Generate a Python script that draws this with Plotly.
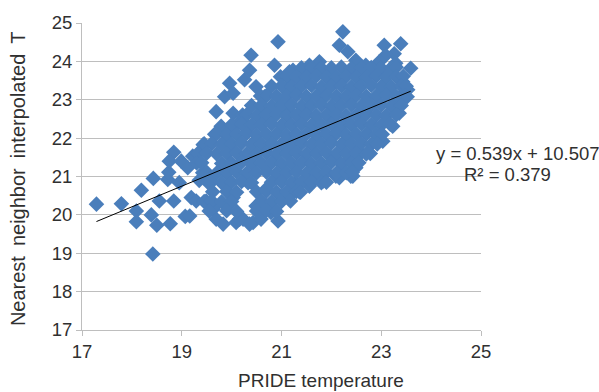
import plotly.graph_objects as go

# Regression reported on the chart
slope = 0.539
intercept = 10.507
r_squared = 0.379

# Points: (PRIDE temperature, nearest-neighbor interpolated T)
left_sparse = [
    (17.29, 20.28), (17.79, 20.29), (18.19, 20.64), (18.43, 20.95), (18.09, 20.10),
    (18.09, 19.82), (18.39, 20.00), (18.50, 19.73), (18.55, 20.36), (18.77, 19.77),
    (18.84, 20.36), (19.07, 19.96), (18.42, 18.98), (18.72, 20.92), (18.74, 21.11),
    (18.84, 21.63), (18.75, 21.40), (18.95, 20.84), (18.99, 21.40), (19.12, 21.23),
    (19.19, 20.45), (19.22, 21.53), (19.49, 20.36), (19.63, 20.15), (19.29, 20.36),
    (19.35, 20.90),
]

bottom_edge = [
    (19.16, 19.97), (19.69, 19.89), (19.83, 19.76), (20.09, 19.80), (20.23, 19.89),
    (20.43, 19.80), (20.59, 19.89), (20.79, 20.06), (20.93, 19.84), (20.36, 19.76),
    (20.16, 19.89), (19.66, 20.23), (20.03, 20.45), (20.49, 20.23), (21.16, 20.49),
    (21.29, 20.84), (20.69, 20.67), (20.33, 20.84),
]

lower_right_edge = [
    (21.36, 20.60), (21.56, 20.75), (21.83, 20.88), (22.16, 20.97), (22.43, 21.01),
    (22.49, 21.23), (22.36, 21.44), (22.59, 21.61), (23.03, 21.92), (23.23, 22.31),
    (23.36, 22.65), (22.09, 21.01), (22.39, 21.01),
]

upper_right_edge = [
    (22.23, 24.77), (22.16, 24.42), (22.33, 24.25), (23.06, 24.42), (23.39, 24.46),
    (23.26, 24.20), (23.09, 24.16), (23.59, 23.82), (23.43, 23.47), (23.29, 23.95),
    (21.76, 23.99), (21.56, 23.90), (21.23, 23.77), (22.69, 23.90), (22.96, 23.99),
    (22.49, 24.03), (23.43, 23.13), (23.53, 23.26), (21.19, 23.52), (21.63, 23.77),
    (23.52, 23.08),
]

upper_left_edge = [
    (20.93, 24.51), (20.39, 24.16), (20.36, 23.77), (20.26, 23.52), (20.86, 23.90),
    (21.16, 23.73), (19.96, 23.43), (19.86, 23.08), (20.03, 23.17), (19.69, 22.69),
    (20.03, 22.65), (19.79, 22.31), (20.49, 23.34), (20.66, 23.08), (20.63, 22.78),
    (21.09, 23.26), (20.13, 22.39), (19.43, 21.83), (19.89, 22.18), (20.29, 22.35),
    (20.83, 22.78), (20.76, 22.52), (21.16, 22.69),
]

core = [
    (21.4, 23.83), (21.6, 23.84), (21.8, 23.82), (22.0, 23.83), (22.2, 23.85),
    (22.4, 23.82), (22.6, 23.83), (22.8, 23.84), (23.0, 23.82), (23.2, 23.83), (23.3, 23.85),
    (20.98, 23.6), (21.1, 23.61), (21.3, 23.59), (21.5, 23.6), (21.7, 23.62),
    (21.9, 23.59), (22.1, 23.6), (22.3, 23.61), (22.5, 23.59), (22.7, 23.6),
    (22.9, 23.62), (23.1, 23.59), (23.3, 23.6), (23.44, 23.61),
    (20.8, 23.35), (21.0, 23.36), (21.2, 23.34), (21.4, 23.35), (21.6, 23.37),
    (21.8, 23.34), (22.0, 23.35), (22.2, 23.36), (22.4, 23.34), (22.6, 23.35),
    (22.8, 23.37), (23.0, 23.35), (23.2, 23.34), (23.4, 23.36), (23.5, 23.35),
    (20.58, 23.1), (20.7, 23.11), (20.9, 23.09), (21.1, 23.1), (21.3, 23.12),
    (21.5, 23.09), (21.7, 23.1), (21.9, 23.11), (22.1, 23.09), (22.3, 23.1),
    (22.5, 23.11), (22.7, 23.09), (22.9, 23.1), (23.1, 23.12), (23.3, 23.09), (23.48, 23.1),
    (20.4, 22.85), (20.6, 22.86), (20.8, 22.84), (21.0, 22.85), (21.2, 22.87),
    (21.4, 22.84), (21.6, 22.85), (21.8, 22.86), (22.0, 22.84), (22.2, 22.85),
    (22.4, 22.86), (22.6, 22.84), (22.8, 22.85), (23.0, 22.86), (23.2, 22.84), (23.4, 22.85),
    (20.22, 22.6), (20.3, 22.61), (20.5, 22.59), (20.7, 22.6), (20.9, 22.62),
    (21.1, 22.59), (21.3, 22.6), (21.5, 22.61), (21.7, 22.59), (21.9, 22.6),
    (22.1, 22.61), (22.3, 22.59), (22.5, 22.6), (22.7, 22.62), (22.9, 22.6),
    (23.1, 22.59), (23.3, 22.61),
    (20.0, 22.35), (20.2, 22.36), (20.4, 22.34), (20.6, 22.35), (20.8, 22.37),
    (21.0, 22.34), (21.2, 22.35), (21.4, 22.36), (21.6, 22.34), (21.8, 22.35),
    (22.0, 22.36), (22.2, 22.34), (22.4, 22.35), (22.6, 22.37), (22.8, 22.35),
    (23.0, 22.34), (23.18, 22.36),
    (19.66, 22.1), (19.7, 22.11), (19.9, 22.09), (20.1, 22.1), (20.3, 22.12),
    (20.5, 22.09), (20.7, 22.1), (20.9, 22.11), (21.1, 22.09), (21.3, 22.1),
    (21.5, 22.11), (21.7, 22.09), (21.9, 22.1), (22.1, 22.12), (22.3, 22.09),
    (22.5, 22.1), (22.7, 22.11), (22.9, 22.09), (23.02, 22.1),
    (19.45, 21.85), (19.6, 21.86), (19.8, 21.84), (20.0, 21.85), (20.2, 21.87),
    (20.4, 21.84), (20.6, 21.85), (20.8, 21.86), (21.0, 21.84), (21.2, 21.85),
    (21.4, 21.86), (21.6, 21.84), (21.8, 21.85), (22.0, 21.87), (22.2, 21.84),
    (22.4, 21.85), (22.6, 21.86), (22.8, 21.84), (22.92, 21.85),
    (19.32, 21.6), (19.5, 21.61), (19.7, 21.59), (19.9, 21.6), (20.1, 21.62),
    (20.3, 21.59), (20.5, 21.6), (20.7, 21.61), (20.9, 21.59), (21.1, 21.6),
    (21.3, 21.61), (21.5, 21.59), (21.7, 21.6), (21.9, 21.62), (22.1, 21.59),
    (22.3, 21.6), (22.5, 21.61), (22.7, 21.59), (22.78, 21.6),
    (19.3, 21.35), (19.4, 21.36), (19.8, 21.34), (20.0, 21.35), (20.2, 21.37),
    (20.4, 21.34), (20.6, 21.35), (20.8, 21.36), (21.0, 21.34), (21.2, 21.35),
    (21.4, 21.36), (21.6, 21.34), (21.8, 21.35), (22.0, 21.37), (22.2, 21.34),
    (22.4, 21.35), (22.55, 21.36),
    (19.42, 21.1), (19.5, 21.11), (19.7, 21.09), (19.9, 21.1), (20.1, 21.12),
    (20.3, 21.09), (20.5, 21.1), (20.7, 21.11), (20.9, 21.09), (21.1, 21.1),
    (21.3, 21.11), (21.5, 21.09), (21.7, 21.1), (21.9, 21.12), (22.1, 21.09),
    (22.3, 21.1), (22.42, 21.11),
    (19.52, 20.85), (19.6, 20.86), (19.8, 20.84), (20.0, 20.85), (20.2, 20.87),
    (20.4, 20.84), (20.8, 20.85), (21.0, 20.86), (21.2, 20.84), (21.4, 20.85),
    (21.6, 20.86), (21.8, 20.84), (21.9, 20.85),
    (19.62, 20.6), (19.9, 20.61), (20.1, 20.59), (20.5, 20.6), (20.7, 20.62),
    (20.9, 20.59), (21.1, 20.6), (21.3, 20.61), (21.38, 20.59),
    (19.45, 20.35), (19.6, 20.36), (19.8, 20.34), (20.0, 20.35), (20.6, 20.37),
    (20.8, 20.34), (21.0, 20.35), (21.18, 20.36),
    (19.55, 20.1), (19.9, 20.11), (20.1, 20.09), (20.5, 20.1), (20.7, 20.12), (20.9, 20.09),
]

x_ticks = [17, 19, 21, 23, 25]
y_ticks = [17, 18, 19, 20, 21, 22, 23, 24, 25]

all_points = left_sparse + bottom_edge + lower_right_edge + upper_right_edge + upper_left_edge + core
pride_temperature = [p[0] for p in all_points]
nn_temperature = [p[1] for p in all_points]

x_min = min(pride_temperature)
x_max = max(pride_temperature)

BLUE = "#4A7EBB"
GRID = "#BEBEBE"
TEXT = "#303030"
FONT = "Liberation Sans, Arial, sans-serif"

fig = go.Figure()
fig.add_trace(go.Scatter(
    x=pride_temperature, y=nn_temperature, mode="markers",
    marker=dict(symbol="diamond", size=12, color=BLUE, line=dict(width=0)),
    showlegend=False, hoverinfo="x+y",
))
fig.add_trace(go.Scatter(
    x=[x_min, x_max], y=[slope * x_min + intercept, slope * x_max + intercept],
    mode="lines", line=dict(color="#000000", width=1), showlegend=False,
))

fig.update_layout(
    width=599, height=392,
    margin=dict(l=82, r=118, t=21, b=62),
    paper_bgcolor="white", plot_bgcolor="white",
    font=dict(family=FONT, size=18.5, color=TEXT),
    xaxis=dict(range=[17, 25], tickvals=x_ticks, showgrid=False, zeroline=False,
               showline=True, linecolor=GRID, linewidth=1, ticks="outside",
               ticklen=5, tickcolor=GRID),
    yaxis=dict(range=[17, 25], tickvals=y_ticks, showgrid=True, gridcolor=GRID,
               gridwidth=1, zeroline=False, showline=True, linecolor=GRID,
               linewidth=1, ticks="outside", ticklen=5, tickcolor=GRID),
    annotations=[
        dict(text="Nearest\u2002neighbor\u2002interpolated\u2002T", xref="paper", yref="paper",
             x=-0.160, y=0.492, textangle=-90, showarrow=False,
             xanchor="center", yanchor="middle", font=dict(size=20)),
        dict(text="PRIDE temperature", xref="paper", yref="paper",
             x=0.599, y=-0.165, showarrow=False, xanchor="center", yanchor="middle",
             font=dict(size=19)),
        dict(text=f"y = {slope}x + {intercept}", xref="paper", yref="paper",
             x=1.0927, y=0.576, showarrow=False, xanchor="center", yanchor="middle",
             font=dict(size=18.5)),
        dict(text=f"R² = {r_squared}", xref="paper", yref="paper",
             x=1.0664, y=0.508, showarrow=False, xanchor="center", yanchor="middle",
             font=dict(size=18.5)),
    ],
)

fig.write_html("out.html")
